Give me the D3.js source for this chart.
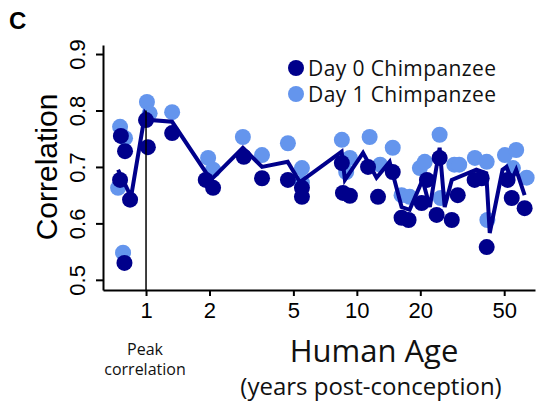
<!DOCTYPE html>
<html>
<head>
<meta charset="utf-8">
<script src="https://cdnjs.cloudflare.com/ajax/libs/d3/7.8.5/d3.min.js"></script>
<style>
  body { margin: 0; background: #fff; }
  .axis path, .axis line { stroke: #000; stroke-width: 2px; }
  .axis text { font-family: "Liberation Sans", Arial, sans-serif; font-size: 22px; fill: #000; }
  .hum { font-family: "Open Sans", sans-serif; fill: #111; }
</style>
</head>
<body>
<script>
var w = 539;
var h = 401;

// Day 0 chimpanzee (age in human years post-conception, correlation)
var day0Age  = [0.753, 0.76, 0.795, 0.84, 0.79, 1.0, 1.02, 1.33, 1.92, 2.08, 2.91, 3.55, 4.71, 5.49, 5.49,
                8.49, 8.59, 9.27, 11.3, 12.6, 14.8, 16.3, 17.6, 20.3, 21.5, 23.9, 24.7, 28.2, 30.1, 36.2,
                39.1, 41.3, 51.9, 54.3, 62.5];
var day0Corr = [0.677, 0.755, 0.728, 0.642, 0.530, 0.783, 0.735, 0.760, 0.677, 0.663, 0.718, 0.680, 0.677, 0.663, 0.647,
                0.707, 0.654, 0.649, 0.700, 0.647, 0.691, 0.610, 0.606, 0.636, 0.677, 0.615, 0.716, 0.606, 0.650, 0.677,
                0.680, 0.558, 0.677, 0.645, 0.627];

// Day 1 chimpanzee
var day1Age  = [0.753, 0.795, 0.737, 0.778, 1.01, 1.04, 1.33, 1.97, 2.08, 2.88, 3.55, 4.71, 5.49, 5.49, 8.49,
                9.27, 8.9, 11.5, 14.8, 12.9, 19.9, 16.3, 17.8, 24.7, 21.0, 25.0, 29.0, 30.6, 36.3, 41.3,
                50.4, 57.0, 55.0, 63.9, 41.6];
var day1Corr = [0.771, 0.751, 0.663, 0.548, 0.815, 0.795, 0.797, 0.716, 0.695, 0.753, 0.721, 0.742, 0.698, 0.672, 0.748,
                0.716, 0.691, 0.753, 0.734, 0.704, 0.698, 0.650, 0.647, 0.757, 0.709, 0.645, 0.704, 0.704, 0.716, 0.709,
                0.721, 0.730, 0.698, 0.681, 0.606];

// trend line
var lineAge  = [0.737, 0.849, 0.99, 1.05, 1.33, 2.03, 2.88, 3.55, 4.70, 5.37, 8.47, 8.78, 10.7, 12.4, 14.3,
                16.3, 17.8, 20.5, 22.2, 24.7, 26.1, 28.2, 36.9, 41.1, 42.7, 49.1, 51.3, 54.3, 57.0, 62.5];
var lineCorr = [0.695, 0.647, 0.795, 0.783, 0.780, 0.677, 0.734, 0.700, 0.709, 0.673, 0.727, 0.677, 0.725, 0.681, 0.709,
                0.629, 0.624, 0.677, 0.629, 0.734, 0.629, 0.677, 0.695, 0.689, 0.583, 0.695, 0.700, 0.677, 0.695, 0.650];

var xTicks = [1, 2, 5, 10, 20, 50];
var yTicks = [0.5, 0.6, 0.7, 0.8, 0.9];
var peakAge = 1;
var peakCorr = 0.80;

var svg = d3.select("body")
    .append("svg")
    .attr("width", w)
    .attr("height", h);

var xScale = d3.scaleLog()
    .domain([0.625, 70])
    .range([103, 535]);

var yScale = d3.scaleLinear()
    .domain([0.482, 0.916])
    .range([290, 45]);

// axes
var xAxis = d3.axisBottom(xScale)
    .tickValues(xTicks)
    .tickFormat(d3.format("d"))
    .tickSize(6)
    .tickSizeOuter(0)
    .tickPadding(6);

svg.append("g")
    .attr("class", "axis")
    .attr("transform", "translate(0,290)")
    .call(xAxis);

var yAxis = d3.axisLeft(yScale)
    .tickValues(yTicks)
    .tickFormat(d3.format(".1f"))
    .tickSize(7)
    .tickSizeOuter(0);

var gy = svg.append("g")
    .attr("class", "axis")
    .attr("transform", "translate(103,0)")
    .call(yAxis);

gy.selectAll(".tick text")
    .attr("x", null)
    .attr("dy", null)
    .attr("text-anchor", "middle")
    .attr("transform", "translate(-18,0) rotate(-90)");

// points
var day1 = day1Age.map(function (d, i) { return [d, day1Corr[i]]; });
var day0 = day0Age.map(function (d, i) { return [d, day0Corr[i]]; });

svg.selectAll(".d1")
    .data(day1)
    .enter()
    .append("circle")
    .attr("class", "d1")
    .attr("cx", function (d) { return xScale(d[0]); })
    .attr("cy", function (d) { return yScale(d[1]); })
    .attr("r", 8)
    .attr("fill", "#6495ED");

svg.selectAll(".d0")
    .data(day0)
    .enter()
    .append("circle")
    .attr("class", "d0")
    .attr("cx", function (d) { return xScale(d[0]); })
    .attr("cy", function (d) { return yScale(d[1]); })
    .attr("r", 8)
    .attr("fill", "#00008B");

var line = d3.line()
    .x(function (d) { return xScale(d[0]); })
    .y(function (d) { return yScale(d[1]); });

svg.append("path")
    .datum(lineAge.map(function (d, i) { return [d, lineCorr[i]]; }))
    .attr("d", line)
    .attr("fill", "none")
    .attr("stroke", "#00008B")
    .attr("stroke-width", 4);

// peak marker
svg.append("line")
    .attr("x1", xScale(peakAge))
    .attr("x2", xScale(peakAge))
    .attr("y1", yScale(peakCorr))
    .attr("y2", 290)
    .attr("stroke", "#000")
    .attr("stroke-width", 1.5);

// labels
svg.append("text")
    .attr("x", 9)
    .attr("y", 29)
    .attr("font-family", "Liberation Sans, Arial, sans-serif")
    .attr("font-weight", "bold")
    .attr("font-size", 24)
    .text("C");

svg.append("text")
    .attr("transform", "translate(57,167) rotate(-90)")
    .attr("text-anchor", "middle")
    .attr("font-family", "Liberation Sans, Arial, sans-serif")
    .attr("font-size", 30)
    .text("Correlation");

svg.append("text").attr("class", "hum")
    .attr("x", 145).attr("y", 355)
    .attr("text-anchor", "middle")
    .attr("font-size", 16)
    .text("Peak");
svg.append("text").attr("class", "hum")
    .attr("x", 145).attr("y", 375)
    .attr("text-anchor", "middle")
    .attr("font-size", 16)
    .text("correlation");

svg.append("text").attr("class", "hum")
    .attr("x", 374).attr("y", 362)
    .attr("text-anchor", "middle")
    .attr("font-size", 31)
    .text("Human Age");
svg.append("text").attr("class", "hum")
    .attr("x", 371).attr("y", 395)
    .attr("text-anchor", "middle")
    .attr("font-size", 24)
    .text("(years post-conception)");

// legend
var legend = [["Day 0 Chimpanzee", "#00008B"], ["Day 1 Chimpanzee", "#6495ED"]];
var lg = svg.selectAll(".lg")
    .data(legend)
    .enter()
    .append("g")
    .attr("transform", function (d, i) { return "translate(296," + (68 + i * 26) + ")"; });
lg.append("circle").attr("r", 8).attr("fill", function (d) { return d[1]; });
lg.append("text").attr("class", "hum")
    .attr("x", 12).attr("y", 7.5)
    .attr("font-size", 21)
    .attr("letter-spacing", 0.4)
    .text(function (d) { return d[0]; });
</script>
</body>
</html>
